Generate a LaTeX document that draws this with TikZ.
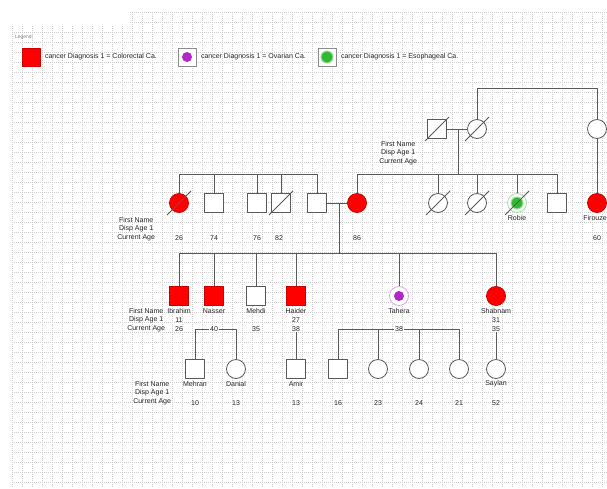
\documentclass[tikz,border=0pt]{standalone}
\usepackage{fontspec}
\setmainfont{Liberation Sans}
\usetikzlibrary{positioning,calc}
\definecolor{ovpurple}{RGB}{178,40,196}
\definecolor{esgreen}{RGB}{50,185,50}

\begin{document}
\begin{tikzpicture}[x=1pt, y=-1pt, font=\fontsize{7}{8.8}\selectfont, line join=round]
	\tikzset{
		person/.style={draw=black!65, line width=0.8pt, fill=white, inner sep=0pt, minimum size=19pt},
		male/.style={person, rectangle},
		female/.style={person, circle},
		colo/.style={fill=red, draw=red!80!black},
		ovar/.style={draw=ovpurple!40},
		esoph/.style={draw=esgreen!45},
		pdot/.style={circle, fill=ovpurple, inner sep=0pt, minimum size=10pt},
		gdot/.style={circle, fill=esgreen, draw=esgreen!50, line width=1pt, inner sep=0pt, minimum size=12pt},
		legbox/.style={draw=black!45, line width=0.8pt, fill=white, inner sep=0pt, minimum size=18pt},
		slash/.style={draw=black!65, line width=0.8pt},
		link/.style={draw=black!65, line width=0.8pt},
		txt/.style={inner sep=0.8pt, text=black!85},
		info/.style={txt, align=center, anchor=east},
		gridline/.style={draw=black!20, line width=0.35pt, dash pattern=on 1pt off 1pt}
	}
	\useasboundingbox (0,0) rectangle (607,488);
	\clip (0,0) rectangle (607,488);
	
	% ---- background grid ----
	\fill[white] (0,0) rectangle (607,488);
	\foreach \gx in {12,22,...,602}
	\draw[gridline] (\gx,12) -- (\gx,488);
	\foreach \gy in {12,22,...,482}
	\draw[gridline] (12,\gy) -- (607,\gy);
	\fill[white] (12,12) rectangle (130,25);
	
	% ---- legend ----
	\node[txt, anchor=west, text=black!50, font=\fontsize{5}{6}\selectfont] (legtitle) at (14,37) {Legend:};
	\node[legbox, colo] (lg1) at (31,57) {};
	\node[txt, anchor=west] (lgt1) at (44,57) {cancer Diagnosis 1 = Colorectal Ca.};
	\node[legbox] (lg2) at (187,57) {};
	\node[pdot] at (lg2) {};
	\node[txt, anchor=west] (lgt2) at (200,57) {cancer Diagnosis 1 = Ovarian Ca.};
	\node[legbox] (lg3) at (327,57) {};
	\node[gdot] at (lg3) {};
	\node[txt, anchor=west] (lgt3) at (340,57) {cancer Diagnosis 1 = Esophageal Ca.};
	
	% ---- levels of the sibship lines ----
	\coordinate (T) at (0,88);
	\coordinate (L2) at (0,174);
	\coordinate (L3) at (0,253);
	\coordinate (m1) at (458,129);
	\coordinate (m2) at (339,203);
	
	% ---- generation I ----
	\node[male] (i1) at (437,129) {};
	\node[female] (i2) at (477,129) {};
	\node[female] (i3) at (597,129) {};
	\node[info] (i1info) at (418,153) {First Name\\Disp Age 1\\Current Age};
	
	% ---- generation II ----
	\node[female, colo] (a1) at (179,203) {};
	\node[male] (a2) at (214,203) {};
	\node[male] (a3) at (257,203) {};
	\node[male] (a4) at (281,203) {};
	\node[male] (a5) at (317,203) {};
	\node[female, colo] (a6) at (357,203) {};
	\node[female] (a7) at (438,203) {};
	\node[female] (a8) at (477,203) {};
	\node[female, esoph] (a9) at (517,203) {};
	\node[gdot] at (a9) {};
	\node[male] (a10) at (557,203) {};
	\node[female, colo] (a11) at (597,203) {};
	
	\node[info] (a1info) at (156,229) {First Name\\Disp Age 1\\Current Age};
	\node[txt] (a9n) at (517,218) {Robie};
	\node[txt] (a11n) at (597,218) {Firouzeh};
	\node[txt] (a1c) at (179,238) {26};
	\node[txt] (a2c) at (214,238) {74};
	\node[txt] (a3c) at (257,238) {76};
	\node[txt] (a4c) at (279,238) {82};
	\node[txt] (a6c) at (357,238) {86};
	\node[txt] (a11c) at (597,238) {60};
	
	% ---- generation III ----
	\node[male, colo] (b1) at (179,296) {};
	\node[male, colo] (b2) at (214,296) {};
	\node[male] (b3) at (256,296) {};
	\node[male, colo] (b4) at (296,296) {};
	\node[female, ovar] (b5) at (399,296) {};
	\node[pdot] at (b5) {};
	\node[female, colo] (b6) at (496,296) {};
	
	\node[info] (b1info) at (166,320) {First Name\\Disp Age 1\\Current Age};
	\node[txt] (b1n) at (179,311) {Ibrahim};
	\node[txt] (b2n) at (214,311) {Nasser};
	\node[txt] (b3n) at (256,311) {Mehdi};
	\node[txt] (b4n) at (296,311) {Haider};
	\node[txt] (b5n) at (399,311) {Tahera};
	\node[txt] (b6n) at (496,311) {Shabnam};
	\node[txt] (b1d) at (179,320) {11};
	\node[txt] (b4d) at (296,320) {27};
	\node[txt] (b6d) at (496,320) {31};
	\node[txt] (b1c) at (179,329) {26};
	\node[txt] (b2c) at (214,329) {40};
	\node[txt] (b3c) at (256,329) {35};
	\node[txt] (b4c) at (296,329) {38};
	\node[txt] (b5c) at (399,329) {38};
	\node[txt] (b6c) at (496,329) {35};
	
	% ---- generation IV ----
	\node[male] (c1) at (195,369) {};
	\node[female] (c2) at (236,369) {};
	\node[male] (c3) at (296,369) {};
	\node[male] (c4) at (338,369) {};
	\node[female] (c5) at (378,369) {};
	\node[female] (c6) at (419,369) {};
	\node[female] (c7) at (459,369) {};
	\node[female] (c8) at (496,369) {};
	
	\node[info] (c1info) at (172,393) {First Name\\Disp Age 1\\Current Age};
	\node[txt] (c1n) at (195,384) {Mehran};
	\node[txt] (c2n) at (236,384) {Danial};
	\node[txt] (c3n) at (296,384) {Amir};
	\node[txt] (c8n) at (496,384) {Saylan};
	\node[txt] (c1c) at (195,403) {10};
	\node[txt] (c2c) at (236,403) {13};
	\node[txt] (c3c) at (296,403) {13};
	\node[txt] (c4c) at (338,403) {16};
	\node[txt] (c5c) at (378,403) {23};
	\node[txt] (c6c) at (419,403) {24};
	\node[txt] (c7c) at (459,403) {21};
	\node[txt] (c8c) at (496,403) {52};
	
	% ---- connectors ----
	\draw[link] (i1) -- (i2);
	\draw[link] (m1) -- (m1 |- L2);
	\draw[link] (i2.north) |- (T -| i3) -- (i3.north);
	\draw[link] (i3) -- (a11);
	
	\draw[link] (a1.north) |- (a5.north |- L2) -- (a5.north);
	\foreach \n in {a2,a3,a4}
	\draw[link] (\n.north) -- (\n.north |- L2);
	\draw[link] (a6.north) |- (a10.north |- L2) -- (a10.north);
	\foreach \n in {a7,a8,a9}
	\draw[link] (\n.north) -- (\n.north |- L2);
	\draw[link] (a5) -- (a6);
	\draw[link] (m2) -- (m2 |- L3);
	
	\draw[link] (b1.north) |- (b6.north |- L3) -- (b6.north);
	\foreach \n in {b2,b3,b4,b5}
	\draw[link] (\n.north) -- (\n.north |- L3);
	
	\draw[link] (c1.north) |- (b2c.west);
	\draw[link] (c2.north) |- (b2c.east);
	\draw[link] (b4c.south) -- (c3.north);
	\draw[link] (c4.north) |- (b5c.west);
	\draw[link] (c7.north) |- (b5c.east);
	\foreach \n in {c5,c6}
	\draw[link] (\n.north) -- (\n.north |- b5c.west);
	\draw[link] (b6c.south) -- (c8.north);
	
	% ---- deceased: slash over the symbol ----
	\foreach \n in {i1,i2,a1,a4,a7,a8,a9}
	\draw[slash] (\n) +(-12,12) -- +(12,-12);
\end{tikzpicture}
\end{document}
